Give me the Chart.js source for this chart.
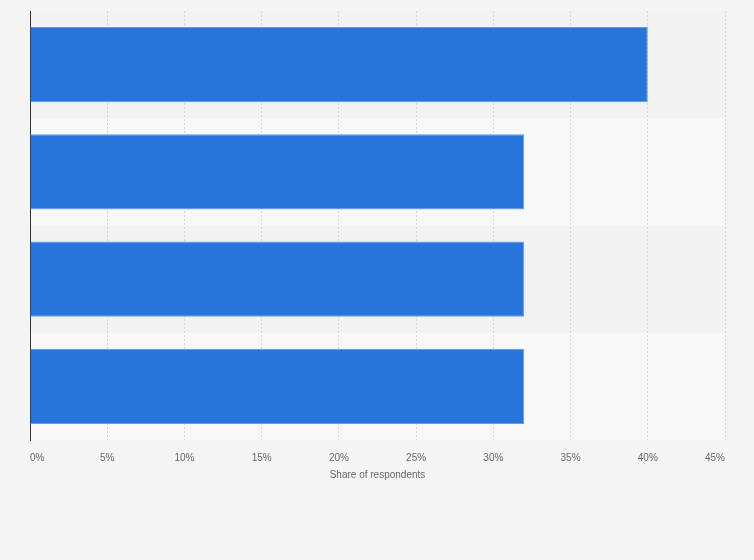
<!DOCTYPE html>
<html>
<head>
<meta charset="utf-8">
<script src="https://cdn.jsdelivr.net/npm/chart.js@4"></script>
<style>
  html, body { margin: 0; padding: 0; background: #f4f4f4; }
  #wrap { width: 754px; height: 560px; }
</style>
</head>
<body>
<div id="wrap"><canvas id="chartOne"></canvas></div>
<script>
const categories = ['', ' ', '  ', '   '];
const shares = [40, 32, 32, 32];
const xTicks = [0, 5, 10, 15, 20, 25, 30, 35, 40, 45];

// alternating row bands, painted before the grid and bars
const rowBands = {
    id: 'rowBands',
    beforeDraw(chart) {
        const { ctx, chartArea } = chart;
        const n = categories.length;
        const step = (chartArea.bottom - chartArea.top) / n;
        ctx.save();
        for (let i = 0; i < n; i++) {
            ctx.fillStyle = i % 2 === 0 ? '#f2f2f2' : '#f8f8f8';
            ctx.fillRect(chartArea.left, chartArea.top + i * step, chartArea.right - chartArea.left, step);
        }
        ctx.restore();
    }
};

const data = {
    labels: categories,
    datasets: [{
        label: 'Share of respondents',
        backgroundColor: '#2775db',
        borderColor: '#5f9be6',
        borderWidth: 1,
        data: shares,
        categoryPercentage: 0.7,
        barPercentage: 1.0,
    }]
};

const config = {
    type: 'bar',
    data: data,
    plugins: [rowBands],
    options: {
        indexAxis: 'y',
        responsive: true,
        maintainAspectRatio: false,
        animation: false,
        layout: { padding: { left: 30, right: 29, top: 11, bottom: 79 } },
        plugins: {
            legend: { display: false },
            tooltip: { enabled: false }
        },
        scales: {
            x: {
                min: 0,
                max: 45,
                afterBuildTicks: (scale) => { scale.ticks = xTicks.map(v => ({ value: v })); },
                ticks: {
                    callback: (v) => v + '%',
                    color: '#666',
                    font: { family: 'Arial, "Liberation Sans", sans-serif', size: 10 },
                    align: 'inner',
                    padding: 12,
                    maxRotation: 0
                },
                grid: {
                    color: '#d6d6d6',
                    drawTicks: false,
                    tickLength: 0
                },
                border: { display: false, dash: [2, 2] },
                title: {
                    display: true,
                    text: 'Share of respondents',
                    color: '#666',
                    font: { family: 'Arial, "Liberation Sans", sans-serif', size: 10 },
                    padding: { top: -7, bottom: 0 }
                }
            },
            y: {
                afterFit: (scale) => { scale.width = 0; },
                ticks: { display: false },
                grid: { display: false },
                border: { display: true, color: '#333', width: 1 }
            }
        }
    }
};

new Chart(document.getElementById('chartOne'), config);
</script>
</body>
</html>
